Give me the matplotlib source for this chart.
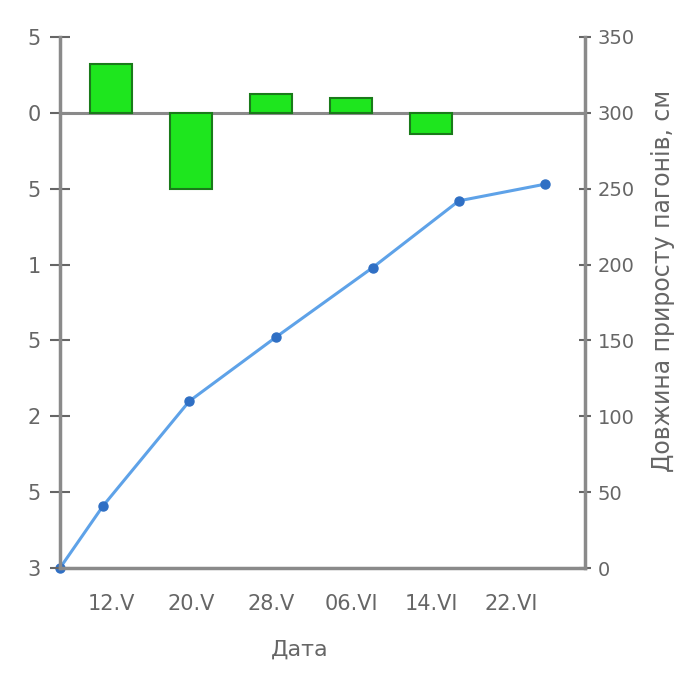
import matplotlib
matplotlib.use("Agg")
import matplotlib.pyplot as plt

plt.rcParams['font.family'] = ['DejaVu Sans']

# Data
dates = ["12.V", "20.V", "28.V", "06.VI", "14.VI", "22.VI"]
bar_values = [0.32, -0.50, 0.125, 0.10, -0.14]          # left axis
line_days = [128, 132, 140, 148, 157, 165, 173]          # day of year
line_values = [0, 41, 110, 152, 198, 242, 253]           # cm, right axis
left_ticks = [0.5, 0, -0.5, -1, -1.5, -2, -2.5, -3]
left_tick_labels = ["5", "0", "5", "1", "5", "2", "5", "3"]
right_ticks = [0, 50, 100, 150, 200, 250, 300, 350]

gray = "#8a8a8a"
tcol = "#666666"

fig = plt.figure(figsize=(7.0, 6.76), dpi=100)
pos = [60/700, 1-568/676, 525/700, 531/676]

# Line on date axis with right y scale (drawn first, underneath)
ax2 = fig.add_axes(pos)
ax2.set_facecolor("none")
ax2.plot(line_days, line_values, color="#5ea2e8", lw=2.2, marker="o", ms=6.5,
         mfc="#2f6fc4", mec="#2f6fc4", zorder=4, clip_on=False)
ax2.set_xlim(128, 176.7)
ax2.set_ylim(0, 350)
ax2.set_xticks([])
ax2.yaxis.tick_right()
ax2.yaxis.set_label_position("right")
ax2.set_yticks(right_ticks)
for s in ["top", "left", "bottom"]:
    ax2.spines[s].set_visible(False)
ax2.spines["right"].set_color(gray)
ax2.spines["right"].set_linewidth(2.5)
ax2.tick_params(axis='y', direction='inout', length=8, width=1.5, color="#666666",
                pad=5, labelsize=14, labelcolor=tcol)
ax2.set_ylabel("Довжина приросту пагонів, см", fontsize=17, color=tcol)
ax2.yaxis.set_label_coords(1.125, 0.54)

# Bars on categorical axis
ax = fig.add_axes(pos)
ax.set_facecolor("none")
xb = list(range(len(bar_values)))
ax.bar(xb, bar_values, width=0.52, color="#1ee61e", edgecolor="#1a7a1a", linewidth=1.5, zorder=3)
ax.axhline(0, color=gray, lw=2.2, zorder=2)
ax.set_xlim(-0.64, 5.925)
ax.set_ylim(-3, 0.5)
ax.set_yticks(left_ticks)
ax.set_yticklabels(left_tick_labels)
ax.set_xticks(range(len(dates)))
ax.set_xticklabels(dates)
ax.tick_params(axis='x', length=0, pad=19, labelsize=15, colors=tcol)
ax.tick_params(axis='y', direction='inout', length=14, width=1.5, color="#666666",
               pad=7, labelsize=15, labelcolor=tcol)
for s in ["top", "right"]:
    ax.spines[s].set_visible(False)
for s in ["left", "bottom"]:
    ax.spines[s].set_color(gray)
    ax.spines[s].set_linewidth(2.5)
ax.set_xlabel("Дата", fontsize=16, color=tcol)
ax.xaxis.set_label_coords(0.457, -0.135)

fig.savefig("out.png", dpi=100)
